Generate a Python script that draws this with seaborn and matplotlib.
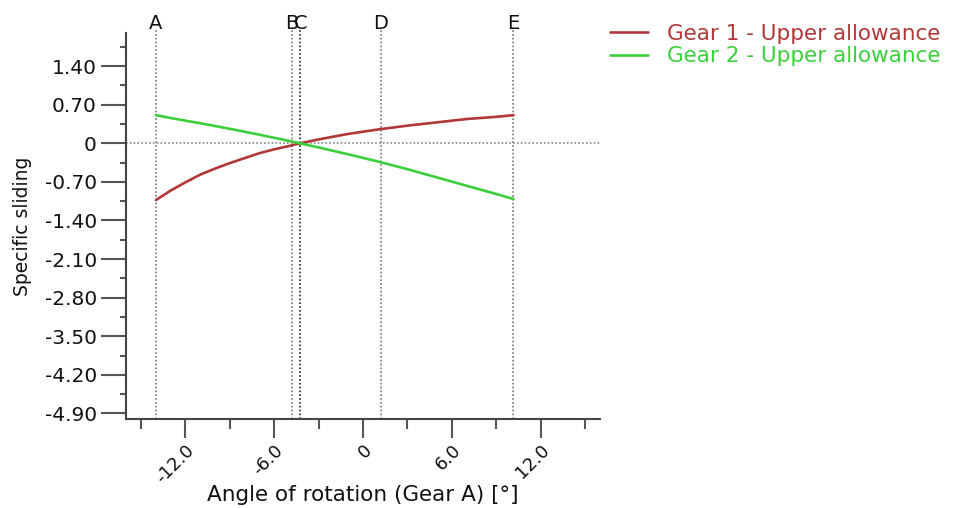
import numpy as np
import pandas as pd
import matplotlib
matplotlib.use("Agg")
import matplotlib.pyplot as plt
import matplotlib.transforms as mtransforms
from matplotlib.lines import Line2D
import seaborn as sns

# ---- data ----
angle = [-13.98, -13.0, -12.0, -11.0, -10.0, -9.0, -8.0, -7.0, -6.0, -5.0, -4.25,
         -3.0, -1.0, 1.0, 3.0, 5.0, 7.0, 9.0, 10.16]
slide_g1 = [-1.03, -0.86, -0.71, -0.57, -0.46, -0.36, -0.27, -0.18, -0.11, -0.05, 0.0,
            0.07, 0.17, 0.25, 0.32, 0.38, 0.44, 0.48, 0.51]
slide_g2 = [0.51, 0.46, 0.41, 0.365, 0.314, 0.263, 0.21, 0.156, 0.10, 0.044, 0.0,
            -0.075, -0.20, -0.33, -0.47, -0.62, -0.77, -0.92, -1.01]
series_names = ["Gear 1 - Upper allowance", "Gear 2 - Upper allowance"]
series_colors = ["#b03838", "#3ccf3c"]

marker_names = ["A", "B", "C", "D", "E"]
marker_pos = [-13.98, -4.8, -4.22, 1.2, 10.16]

xticks = [-12.0, -6.0, 0.0, 6.0, 12.0]
xtick_labels = ["-12.0", "-6.0", "0", "6.0", "12.0"]
yticks = [1.40, 0.70, 0.0, -0.70, -1.40, -2.10, -2.80, -3.50, -4.20, -4.90]
ytick_labels = ["1.40", "0.70", "0", "-0.70", "-1.40", "-2.10", "-2.80", "-3.50", "-4.20", "-4.90"]

df = pd.concat([
    pd.DataFrame({"angle": angle, "slide": slide_g1, "series": series_names[0]}),
    pd.DataFrame({"angle": angle, "slide": slide_g2, "series": series_names[1]}),
], ignore_index=True)

sns.set_style("white")
plt.rcParams["font.family"] = ["DejaVu Sans"]

fig = plt.figure(figsize=(9.54, 5.08), dpi=100)
AX_L, AX_R, AX_T, AX_B = 126, 600, 33, 419
ax = fig.add_axes([AX_L/954, 1 - AX_B/508, (AX_R-AX_L)/954, (AX_B-AX_T)/508])

sns.lineplot(data=df, x="angle", y="slide", hue="series", palette=series_colors,
             hue_order=series_names, ax=ax, linewidth=1.9, legend=False, sort=True,
             estimator=None, zorder=3)

ax.set_xlim(-16, 16)
ax.set_ylim(-5.0, 2.0)

dot = (0, (1, 1.3))
ax.axhline(0, color="#888888", linestyle=dot, linewidth=1.2, zorder=1)
trans = mtransforms.blended_transform_factory(ax.transData, ax.transAxes)
for name, xp in zip(marker_names, marker_pos):
    col = "#222222" if name == "C" else "#777777"
    ax.axvline(xp, ymin=0, ymax=1.008, color=col, linestyle=dot, linewidth=1.2,
               zorder=1, clip_on=False)
    ax.text(xp, 1.011, name, transform=trans, ha="center", va="baseline",
            fontsize=14, color="#111111")

ax.set_xticks(xticks)
ax.set_xticklabels(xtick_labels, rotation=45, ha="right", rotation_mode="anchor")
ax.set_xticks([-15, -9, -3, 3, 9, 15], minor=True)
ax.set_yticks(yticks)
ax.set_yticklabels(ytick_labels)
ax.set_yticks([1.75, 1.05, 0.35, -0.35, -1.05, -1.75, -2.45, -3.15, -3.85, -4.55], minor=True)

ax.tick_params(axis="both", which="major", direction="out", width=1.5,
               color="#555555", labelcolor="#111111", bottom=True, left=True)
ax.tick_params(axis="x", which="major", length=14, pad=2, labelsize=13)
ax.tick_params(axis="y", which="major", length=18, pad=3, labelsize=14.5)
ax.tick_params(axis="both", which="minor", direction="out", width=1.5, color="#555555",
               bottom=True, left=True)
ax.tick_params(axis="x", which="minor", length=7)
ax.tick_params(axis="y", which="minor", length=4)

for s in ["top", "right"]:
    ax.spines[s].set_visible(False)
for s in ["left", "bottom"]:
    ax.spines[s].set_color("#444444")
    ax.spines[s].set_linewidth(1.5)

ax.set_xlabel("Angle of rotation (Gear A) [°]", fontsize=15.5, color="#111111", va="center")
ax.xaxis.set_label_coords(0.5, (AX_B - 495) / (AX_B - AX_T))
ax.set_ylabel("Specific sliding", fontsize=13.5, color="#111111", va="center")
ax.yaxis.set_label_coords((23 - AX_L) / (AX_R - AX_L), 0.5)
ax.grid(False)

handles = [Line2D([], [], color=c, linewidth=1.9) for c in series_colors]
leg = fig.legend(handles, series_names, loc="upper left", bbox_to_anchor=(610/954, 1 - 24/508),
                 frameon=False, fontsize=15.5, handlelength=1.75, handletextpad=0.9,
                 labelspacing=0.1, borderaxespad=0, borderpad=0)
for t, c in zip(leg.get_texts(), series_colors):
    t.set_color(c)

fig.savefig("out.png", dpi=100)
